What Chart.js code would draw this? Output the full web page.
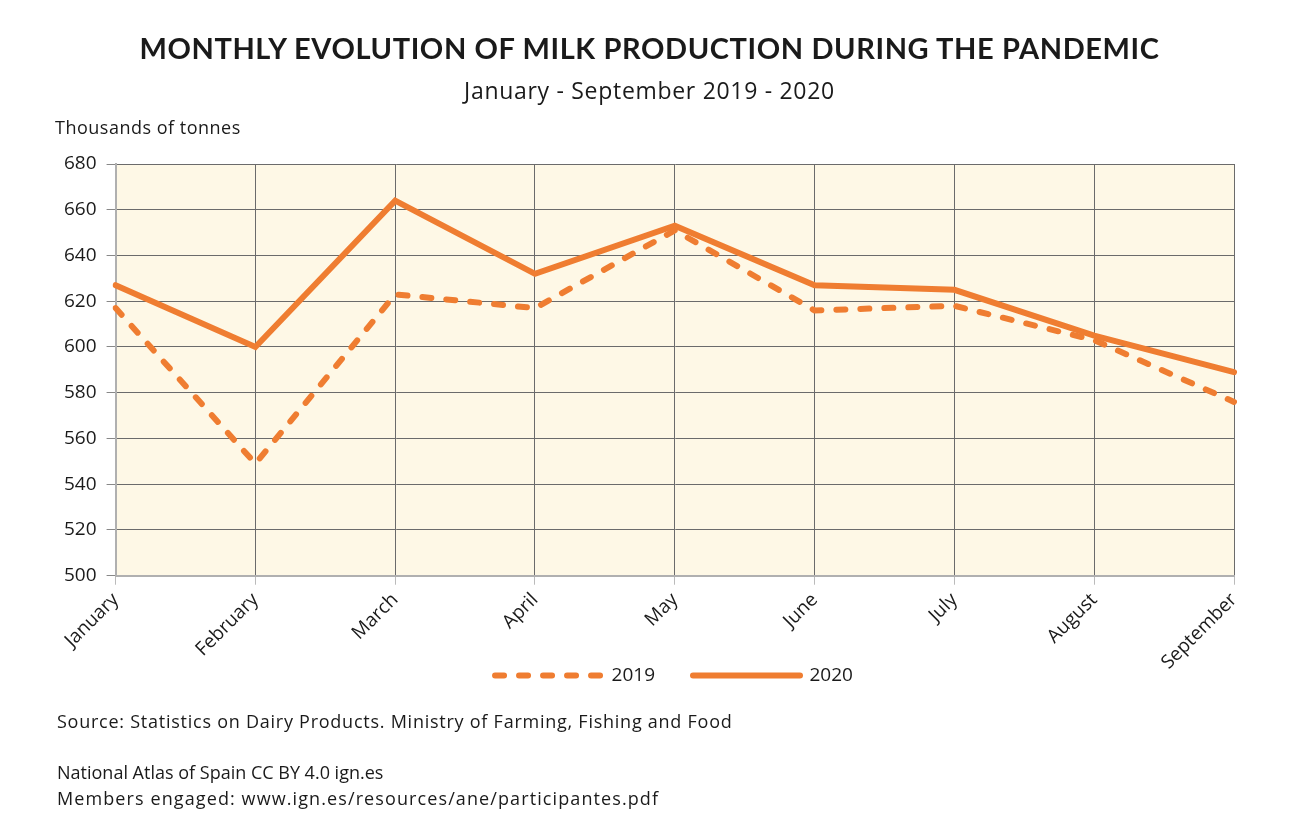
<!DOCTYPE html>
<html>
<head>
<meta charset="utf-8">
<script src="https://cdn.jsdelivr.net/npm/chart.js@4"></script>
<style>
  html, body { margin: 0; padding: 0; background: #fff; }
  body { width: 1299px; height: 826px; position: relative; overflow: hidden; font-family: "Open Sans", Lato, sans-serif; color: #1a1a1a; }
  #wrap { position: absolute; left: 0; top: 0; width: 1299px; height: 826px; }
  .t { position: absolute; white-space: nowrap; }
  #title { left: 0; width: 1299px; top: 30px; text-align: center; font-family: Lato, sans-serif; font-weight: 700; font-size: 29px; letter-spacing: 0.6px; }
  #sub { left: 0; width: 1299px; top: 74px; text-align: center; font-size: 23px; letter-spacing: 0.7px; }
  #unit { left: 55px; top: 115px; font-size: 18px; letter-spacing: 0.5px; }
  #src { left: 57px; top: 709px; font-size: 18px; letter-spacing: 0.75px; }
  #atlas { left: 57px; top: 760px; font-size: 18px; }
  #members { left: 57px; top: 786px; font-size: 18px; letter-spacing: 1.1px; }
</style>
</head>
<body>
<div id="wrap"><canvas id="milkChart" width="1299" height="826"></canvas></div>
<div class="t" id="title">MONTHLY EVOLUTION OF MILK PRODUCTION DURING THE PANDEMIC</div>
<div class="t" id="sub">January - September 2019 - 2020</div>
<div class="t" id="unit">Thousands of tonnes</div>
<div class="t" id="src">Source: Statistics on Dairy Products. Ministry of Farming, Fishing and Food</div>
<div class="t" id="atlas">National Atlas of Spain CC BY 4.0 ign.es</div>
<div class="t" id="members">Members engaged: www.ign.es/resources/ane/participantes.pdf</div>
<script>
// months and production values (thousands of tonnes)
var months = ['January', 'February', 'March', 'April', 'May', 'June', 'July', 'August', 'September'];
var milk2019 = [617, 549, 623, 617, 651, 616, 618, 603, 576];
var milk2020 = [627, 600, 664, 632, 653, 627, 625, 605, 589];
var yTicks = [500, 520, 540, 560, 580, 600, 620, 640, 660, 680];

var orange = '#EF7D31';

// cream background behind the plot area
var plotBg = {
  id: 'plotBg',
  beforeDraw: function (chart) {
    var a = chart.chartArea;
    var ctx = chart.ctx;
    ctx.save();
    ctx.fillStyle = '#FEF8E6';
    ctx.fillRect(a.left, a.top, a.right - a.left, a.bottom - a.top);
    ctx.restore();
  }
};

// in the original the legend overlaps the rotated labels' band, a bit right of centre
var legendShift = {
  id: 'legendShift',
  afterLayout: function (chart) {
    var lg = chart.legend;
    var h = lg.bottom - lg.top;
    lg.top = 628;
    lg.bottom = 628 + h;
    lg.left += 30;
    lg.right += 30;
  }
};

var ctx = document.getElementById('milkChart');
new Chart(ctx, {
  type: 'line',
  data: {
    labels: months,
    datasets: [{
      label: '2019',
      data: milk2019,
      borderColor: orange,
      backgroundColor: orange,
      borderWidth: 6,
      borderDash: [9, 15],
      borderCapStyle: 'round',
      pointRadius: 0,
      tension: 0
    }, {
      label: '2020',
      data: milk2020,
      borderColor: orange,
      backgroundColor: orange,
      borderWidth: 6,
      borderCapStyle: 'round',
      pointRadius: 0,
      tension: 0
    }]
  },
  options: {
    responsive: false,
    animation: false,
    devicePixelRatio: 1,
    layout: { padding: { left: 54, right: 65, top: 164, bottom: 81 } },
    scales: {
      x: {
        offset: false,
        grid: { color: '#6b6b6b', lineWidth: 1, tickLength: 9, tickColor: '#bbbbbb' },
        border: { color: '#b0b0b0', width: 2 },
        ticks: { color: '#1a1a1a', font: { family: 'Open Sans', size: 19 }, maxRotation: 45, minRotation: 45, padding: 4 }
      },
      y: {
        min: 500,
        max: 680,
        afterBuildTicks: function (scale) {
          scale.ticks = yTicks.map(function (v) { return { value: v }; });
        },
        grid: { color: '#6b6b6b', lineWidth: 1, tickLength: 9, tickColor: '#888888' },
        border: { color: '#b0b0b0', width: 2 },
        ticks: { color: '#1a1a1a', font: { family: 'Open Sans', size: 19 }, padding: 10 }
      }
    },
    plugins: {
      legend: {
        position: 'bottom',
        labels: {
          usePointStyle: true,
          pointStyle: 'line',
          pointStyleWidth: 107,
          color: '#1a1a1a',
          font: { family: 'Open Sans', size: 19 },
          padding: 38,
          generateLabels: function (chart) {
            var items = Chart.defaults.plugins.legend.labels.generateLabels(chart);
            items.forEach(function (item) {
              var ds = chart.data.datasets[item.datasetIndex];
              item.lineDash = ds.borderDash || [];
              item.lineCap = 'round';
              item.lineWidth = 6;
              item.strokeStyle = orange;
              item.pointStyle = 'line';
            });
            return items;
          }
        }
      },
      tooltip: { enabled: false }
    }
  },
  plugins: [plotBg, legendShift]
});
</script>
</body>
</html>
